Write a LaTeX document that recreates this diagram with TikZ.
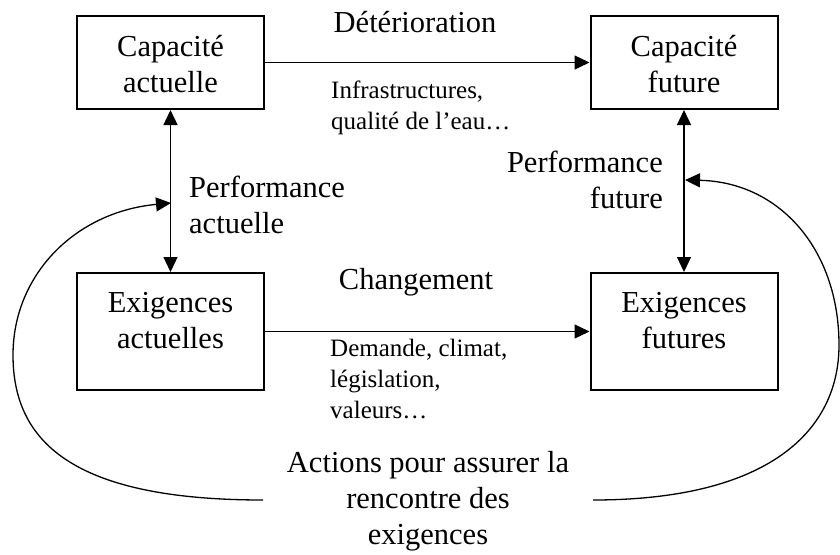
\documentclass[tikz,border=0pt]{standalone}
\usepackage{fontspec}
\setmainfont{Liberation Serif}
\usetikzlibrary{arrows.meta}

\tikzset{
  box/.style={draw, line width=2pt, minimum width=187pt, inner sep=0pt},
  boxtext/.style={align=center, inner sep=0pt, font=\fontsize{30.5}{36}\selectfont},
  bigtext/.style={inner sep=0pt, font=\fontsize{30.5}{36}\selectfont},
  smalltext/.style={inner sep=0pt, align=left, font=\fontsize{25}{31}\selectfont},
  tip/.style={Triangle[length=15pt,width=14pt]},
  link/.style={line width=1.3pt, -{Triangle[length=15pt,width=14pt]}},
  both/.style={line width=1.3pt, {Triangle[length=15pt,width=14pt]}-{Triangle[length=15pt,width=14pt]}},
}

\begin{document}
\begin{tikzpicture}[x=1pt,y=-1pt]
  \useasboundingbox (0,0) rectangle (840,554);

  % the four state boxes
  \node[box, minimum height=93pt]  (ca) at (170.5,62.5) {};
  \node[box, minimum height=93pt]  (cf) at (684,62.5) {};
  \node[box, minimum height=117pt] (ea) at (170.5,331.5) {};
  \node[box, minimum height=117pt] (ef) at (684,331.5) {};

  \node[boxtext] (cat) at (170.5,64) {Capacité\\actuelle};
  \node[boxtext] (cft) at (684,64) {Capacité\\future};
  \node[boxtext] (eat) at (170.5,321) {Exigences\\actuelles};
  \node[boxtext] (eft) at (684,321) {Exigences\\futures};

  % transitions over time
  \draw[link] (ca.east) -- (cf.west);
  \draw[link] (ea.east) -- (ef.west);
  \node[bigtext] (det) at (415,22) {Détérioration};
  \node[bigtext] (chg) at (416,282) {Changement};
  \node[smalltext, anchor=west] (inf) at (331,108) {Infrastructures,\\qualité de l’eau…};
  \node[smalltext, anchor=west] (dem) at (330,379) {Demande, climat,\\législation,\\valeurs…};

  % performance links
  \draw[both] (ca.south) -- (ea.north);
  \draw[both] (cf.south) -- (ef.north);
  \node[bigtext, align=left, anchor=west] (pa) at (189,205) {Performance\\actuelle};
  \node[bigtext, align=right, anchor=east] (pf) at (663,180) {Performance\\future};

  % actions loop
  \node[bigtext, align=center] (act) at (428,501) {Actions pour assurer la\\rencontre des\\exigences};
  \coordinate (l0) at (263,500);
  \coordinate (l1) at (171,203);
  \coordinate (r0) at (593,500);
  \coordinate (r1) at (685,180);
  \draw[link] (l0) .. controls (70,500) and (13,440) .. (13,355)
                   .. controls (13,275) and (75,212) .. (l1);
  \draw[link] (r0) .. controls (770,500) and (839,430) .. (839,345)
                   .. controls (839,250) and (780,182) .. (r1);
\end{tikzpicture}
\end{document}
